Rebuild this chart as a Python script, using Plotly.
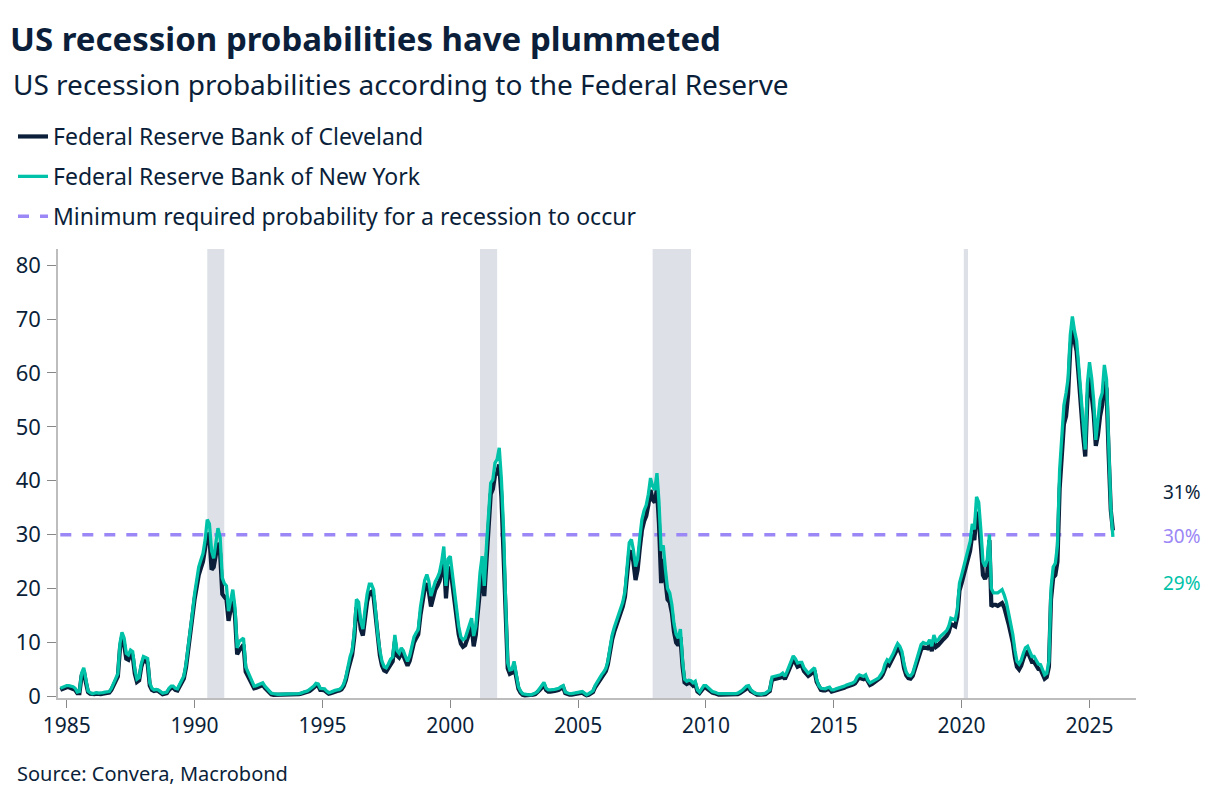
import pandas as pd
import plotly.graph_objects as go

# ---------------- data (monthly, Oct 1984 - Dec 2025) ----------------
start_month = "1984-10-01"

cleveland = [
    1.2, 1.4, 1.6,                                                     # 1984 Oct-Dec
    1.7, 1.7, 1.6, 1.5, 1.2, 0.6, 0.6, 3.8, 4.8, 2.6, 0.8, 0.5,        # 1985
    0.4, 0.4, 0.5, 0.4, 0.4, 0.5, 0.6, 0.6, 0.7, 1.2, 2.1, 3.0,        # 1986
    3.7, 9.0, 11.0, 9.6, 7.0, 6.8, 7.8, 7.5, 4.2, 2.7, 3.0, 5.4,       # 1987
    6.8, 6.5, 6.2, 2.0, 1.2, 1.0, 1.1, 1.0, 0.6, 0.4, 0.5, 0.6,        # 1988
    1.2, 1.6, 1.6, 1.2, 1.1, 1.8, 2.4, 3.3, 5.4, 8.2, 10.8, 14.8,      # 1989
    18.0, 20.8, 22.5, 23.8, 25.0, 27.5, 30.3, 29.5, 23.5, 24.0, 26.0, 28.5,  # 1990
    26.5, 19.0, 18.5, 18.0, 14.0, 16.0, 18.2, 15.0, 7.8, 8.5, 9.2, 9.6,      # 1991
    4.6, 3.7, 3.0, 2.2, 1.5, 1.6, 1.8, 2.0, 2.1, 1.6, 1.1, 0.7,        # 1992
    0.4, 0.3, 0.3, 0.3, 0.3, 0.3, 0.3, 0.3, 0.3, 0.3, 0.3, 0.4,        # 1993
    0.3, 0.4, 0.5, 0.6, 0.7, 0.8, 1.0, 1.3, 1.6, 2.0, 2.0, 1.2,        # 1994
    1.2, 1.1, 0.8, 0.5, 0.6, 0.8, 0.9, 1.0, 1.1, 1.3, 1.9, 3.0,        # 1995
    4.8, 6.6, 7.7, 11.0, 16.5, 16.0, 12.5, 11.3, 14.8, 17.6, 19.2, 19.4,     # 1996
    18.5, 14.0, 10.5, 7.6, 5.7, 4.8, 4.6, 5.3, 6.1, 6.5, 10.2, 7.6,    # 1997
    7.2, 8.0, 7.6, 6.6, 5.7, 6.6, 8.3, 10.0, 10.8, 11.5, 15.0, 17.6,   # 1998
    20.0, 21.0, 19.5, 16.7, 18.2, 19.8, 20.5, 21.4, 23.2, 25.8, 18.2, 23.3,  # 1999
    24.0, 20.5, 18.0, 14.5, 11.5, 9.8, 9.2, 9.5, 10.6, 12.0, 13.0, 9.3,      # 2000
    11.5, 16.0, 20.5, 23.8, 18.6, 25.5, 32.5, 37.5, 38.5, 41.0, 41.5, 43.0,  # 2001
    37.0, 27.5, 15.5, 5.2, 4.2, 4.4, 5.7, 3.0, 1.4, 0.7, 0.3, 0.2,     # 2002
    0.2, 0.2, 0.2, 0.3, 0.4, 0.7, 1.2, 1.6, 2.2, 1.2, 0.9, 0.9,        # 2003
    0.9, 1.0, 1.1, 1.2, 1.5, 1.7, 0.6, 0.4, 0.3, 0.3, 0.4, 0.4,        # 2004
    0.5, 0.6, 0.7, 0.4, 0.2, 0.3, 0.6, 0.8, 1.7, 2.3, 3.0, 3.5,        # 2005
    4.0, 4.7, 5.9, 8.8, 10.5, 12.0, 13.2, 14.0, 15.6, 16.7, 18.5, 22.0,      # 2006
    26.5, 27.0, 25.0, 21.6, 23.5, 27.5, 30.8, 32.5, 33.5, 35.5, 38.3, 36.5,  # 2007
    36.0, 38.5, 32.0, 21.0, 25.5, 21.5, 18.0, 17.5, 15.5, 12.0, 10.0, 9.5,   # 2008
    11.0, 5.5, 2.6, 2.3, 2.5, 2.4, 2.0, 2.3, 0.9, 0.6, 1.2, 1.6,       # 2009
    1.6, 1.3, 0.9, 0.7, 0.6, 0.4, 0.3, 0.3, 0.3, 0.3, 0.3, 0.3,        # 2010
    0.3, 0.3, 0.4, 0.4, 0.6, 0.9, 1.2, 1.6, 1.7, 1.0, 0.7, 0.4,        # 2011
    0.3, 0.3, 0.3, 0.3, 0.4, 0.7, 1.0, 3.1, 3.2, 3.3, 3.3, 3.5,        # 2012
    3.8, 3.2, 4.0, 5.0, 6.2, 6.8, 6.3, 5.5, 5.7, 5.7, 4.7, 4.2,        # 2013
    3.8, 4.1, 4.5, 4.8, 2.7, 1.7, 1.2, 1.1, 1.1, 1.3, 1.4, 0.9,        # 2014
    1.0, 1.1, 1.2, 1.3, 1.4, 1.6, 1.8, 1.9, 2.0, 2.2, 2.4, 3.1,        # 2015
    3.6, 3.3, 3.2, 3.5, 2.6, 2.1, 2.3, 2.6, 2.7, 3.0, 3.5, 4.1,        # 2016
    5.3, 6.1, 5.8, 6.5, 7.2, 8.2, 8.9, 8.5, 7.5, 5.2, 3.9, 3.4,        # 2017
    3.3, 3.8, 4.9, 6.4, 7.7, 8.7, 9.1, 8.9, 8.9, 9.6, 8.4, 10.4,       # 2018
    9.2, 9.5, 10.1, 10.4, 10.8, 11.2, 11.9, 13.4, 13.2, 13.0, 14.8, 19.6,    # 2019
    21.0, 22.5, 23.8, 25.5, 27.0, 30.0, 29.0, 34.2, 33.0, 28.0, 22.5, 21.8,  # 2020
    22.8, 29.0, 16.7, 17.0, 17.0, 16.8, 17.0, 17.3, 16.5, 15.3, 13.5, 11.8,  # 2021
    10.0, 7.2, 5.5, 5.0, 5.7, 7.0, 8.0, 8.3, 7.5, 6.4, 6.4, 5.8,       # 2022
    5.1, 5.0, 4.2, 3.3, 3.6, 5.5, 18.0, 22.0, 22.5, 25.0, 38.5, 45.5,  # 2023
    50.5, 52.0, 56.0, 64.5, 68.0, 66.0, 64.0, 59.0, 53.0, 48.5, 44.5, 55.0,  # 2024
    59.5, 56.5, 52.5, 46.5, 48.5, 52.0, 54.0, 58.5, 57.0, 45.0, 34.5, 30.8,  # 2025
]

new_york = [
    1.5, 1.7, 1.9,                                                     # 1984 Oct-Dec
    2.0, 2.0, 1.9, 1.8, 1.5, 0.8, 0.9, 4.3, 5.3, 3.0, 1.0, 0.7,        # 1985
    0.5, 0.6, 0.7, 0.6, 0.6, 0.7, 0.8, 0.8, 0.9, 1.5, 2.5, 3.5,        # 1986
    4.2, 9.9, 11.9, 10.8, 8.0, 7.7, 8.6, 8.3, 5.0, 3.2, 3.5, 6.0,      # 1987
    7.4, 7.2, 7.0, 2.5, 1.5, 1.2, 1.3, 1.2, 0.8, 0.6, 0.7, 0.8,        # 1988
    1.5, 1.9, 1.9, 1.5, 1.4, 2.2, 2.8, 3.8, 6.0, 8.8, 11.7, 15.5,      # 1989
    19.0, 21.8, 24.0, 25.3, 26.5, 29.0, 32.8, 32.0, 27.0, 25.6, 28.5, 31.2,  # 1990
    29.5, 22.0, 21.0, 20.5, 15.8, 18.0, 19.8, 16.5, 9.0, 10.2, 10.5, 10.8,   # 1991
    5.5, 4.5, 3.6, 2.6, 1.9, 2.0, 2.2, 2.4, 2.5, 1.9, 1.4, 0.9,        # 1992
    0.6, 0.5, 0.4, 0.4, 0.4, 0.4, 0.4, 0.4, 0.4, 0.4, 0.4, 0.5,        # 1993
    0.4, 0.5, 0.6, 0.8, 0.9, 1.0, 1.3, 1.6, 1.9, 2.4, 2.3, 1.5,        # 1994
    1.5, 1.4, 1.0, 0.7, 0.8, 1.0, 1.1, 1.2, 1.3, 1.6, 2.3, 3.5,        # 1995
    5.5, 7.4, 8.5, 12.0, 18.0, 17.5, 14.0, 12.5, 16.1, 19.0, 20.8, 20.8,     # 1996
    19.8, 15.0, 11.5, 8.5, 6.5, 5.5, 5.3, 6.0, 6.9, 7.3, 11.4, 8.5,    # 1997
    8.0, 9.0, 8.5, 7.4, 6.5, 7.5, 9.3, 11.0, 11.8, 12.4, 16.5, 19.0,   # 1998
    21.5, 22.6, 21.4, 18.6, 19.8, 21.3, 22.0, 23.0, 25.0, 27.8, 20.5, 25.5,  # 1999
    26.0, 22.5, 20.0, 16.0, 13.0, 11.0, 10.5, 10.8, 12.0, 13.5, 14.5, 11.2,  # 2000
    13.0, 18.0, 22.9, 26.0, 20.5, 27.8, 34.6, 39.6, 40.2, 43.3, 44.0, 46.1,  # 2001
    40.2, 30.9, 18.0, 6.2, 4.9, 5.0, 6.5, 3.7, 1.8, 1.0, 0.5, 0.4,     # 2002
    0.3, 0.3, 0.3, 0.4, 0.6, 0.9, 1.5, 1.9, 2.6, 1.5, 1.2, 1.2,        # 2003
    1.2, 1.3, 1.4, 1.5, 1.8, 2.0, 0.8, 0.6, 0.5, 0.5, 0.6, 0.6,        # 2004
    0.7, 0.8, 0.9, 0.6, 0.3, 0.5, 0.8, 1.0, 2.0, 2.7, 3.4, 4.0,        # 2005
    4.5, 5.2, 6.5, 9.5, 11.3, 12.8, 14.0, 14.8, 16.5, 17.5, 19.5, 23.5,      # 2006
    28.5, 29.1, 27.2, 24.1, 25.5, 29.5, 32.8, 34.5, 35.5, 37.5, 40.5, 39.0,  # 2007
    38.3, 41.4, 36.0, 27.0, 28.0, 23.5, 20.0, 19.2, 17.0, 13.5, 11.5, 10.8,  # 2008
    12.5, 6.5, 3.2, 2.8, 3.0, 2.9, 2.5, 2.8, 1.2, 0.8, 1.5, 2.0,       # 2009
    2.0, 1.6, 1.2, 0.9, 0.8, 0.6, 0.5, 0.5, 0.5, 0.5, 0.5, 0.5,        # 2010
    0.4, 0.4, 0.5, 0.6, 0.8, 1.1, 1.5, 1.9, 2.0, 1.3, 0.9, 0.6,        # 2011
    0.5, 0.4, 0.4, 0.5, 0.6, 0.9, 1.2, 3.6, 3.7, 3.8, 3.8, 4.0,        # 2012
    4.3, 3.7, 4.5, 5.6, 6.8, 7.5, 7.0, 6.2, 6.3, 6.3, 5.3, 4.8,        # 2013
    4.3, 4.6, 5.0, 5.3, 3.1, 2.0, 1.5, 1.4, 1.4, 1.6, 1.7, 1.2,        # 2014
    1.2, 1.4, 1.5, 1.6, 1.7, 1.9, 2.1, 2.2, 2.3, 2.5, 2.8, 3.6,        # 2015
    4.0, 3.8, 3.7, 4.0, 3.0, 2.5, 2.7, 3.0, 3.1, 3.4, 4.0, 4.6,        # 2016
    6.0, 6.8, 6.5, 7.2, 8.0, 9.0, 9.8, 9.3, 8.3, 6.0, 4.5, 3.9,        # 2017
    3.8, 4.3, 5.5, 7.1, 8.5, 9.6, 10.0, 9.8, 9.8, 10.5, 9.3, 11.4,     # 2018
    10.2, 10.5, 11.1, 11.4, 11.8, 12.2, 13.0, 14.5, 14.3, 14.2, 16.1, 21.0,  # 2019
    22.5, 24.0, 25.4, 27.3, 28.7, 32.0, 31.0, 37.0, 36.0, 31.0, 25.0, 24.1,  # 2020
    25.4, 30.0, 20.0, 19.2, 19.2, 19.2, 19.5, 19.8, 18.8, 17.5, 15.5, 13.8,  # 2021
    11.5, 8.5, 6.5, 6.0, 6.7, 8.0, 9.0, 9.3, 8.5, 7.4, 7.4, 6.8,       # 2022
    6.0, 5.9, 5.0, 4.0, 4.3, 6.5, 20.0, 24.0, 24.7, 28.0, 42.0, 49.0,  # 2023
    54.0, 56.3, 59.0, 67.0, 70.5, 67.8, 66.0, 61.0, 56.0, 51.0, 45.8, 58.0,  # 2024
    62.0, 59.0, 55.0, 47.6, 51.5, 55.0, 56.3, 61.5, 58.8, 45.0, 35.0, 29.6,  # 2025
]

threshold = 30
recessions = [
    ("1990-07-01", "1991-03-01"),
    ("2001-03-01", "2001-11-01"),
    ("2007-12-01", "2009-06-01"),
    ("2020-02-01", "2020-04-01"),
]
year_ticks = [1985, 1990, 1995, 2000, 2005, 2010, 2015, 2020, 2025]
end_labels = [("31%", 38.0, "cle"), ("30%", 29.8, "thr"), ("29%", 21.1, "ny")]

dates = pd.date_range(start_month, periods=len(new_york), freq="MS")

# ---------------- style ----------------
NAVY = "#0b1f3a"
TEAL = "#00c2a8"
PURPLE = "#9b87f5"
SHADE = "#dde0e7"
AXIS = "#bdbdbd"
FONT = "Noto Sans"
colors = {"cle": NAVY, "thr": PURPLE, "ny": TEAL}

# page has an 8px body margin: figure is drawn 8px smaller and offset
W, H = 1218, 798
L, R, T, B = 50, 90, 241, 108
PW, PH = W - L - R, H - T - B


def px_x(x):  # page x (reference px) -> paper x
    return (x - 8 - L) / PW


def px_y(y):  # page y (reference px) -> paper y
    return (H - B - (y - 8)) / PH


fig = go.Figure()

fig.add_trace(go.Scatter(
    x=[dates[0], dates[-1]], y=[threshold, threshold], mode="lines",
    name="Minimum required probability for a recession to occur",
    line=dict(color=PURPLE, width=3.5, dash="11px,11px"),
    legendrank=3, legendgroup="c", hoverinfo="skip"))
fig.add_trace(go.Scatter(
    x=dates, y=cleveland, mode="lines", name="Federal Reserve Bank of Cleveland",
    line=dict(color=NAVY, width=4.2), legendrank=1, legendgroup="a"))
fig.add_trace(go.Scatter(
    x=dates, y=new_york, mode="lines", name="Federal Reserve Bank of New York",
    line=dict(color=TEAL, width=3.3), legendrank=2, legendgroup="b"))

for s, e in recessions:
    fig.add_shape(type="rect", xref="x", yref="paper", x0=s, x1=e, y0=0, y1=1,
                  fillcolor=SHADE, line_width=0, layer="below")

for txt, yv, key in end_labels:
    fig.add_annotation(text=txt, x=px_x(1161), xref="paper", y=yv, yref="y",
                       xanchor="left", yanchor="middle", showarrow=False,
                       font=dict(family=FONT, size=19, color=colors[key]))

fig.add_annotation(text="US recession probabilities according to the Federal Reserve",
                   xref="paper", yref="paper", x=px_x(791), y=px_y(84),
                   xanchor="right", yanchor="middle", showarrow=False,
                   font=dict(family=FONT, size=28, color=NAVY))
fig.add_annotation(text="Source: Convera, Macrobond",
                   xref="paper", yref="paper", x=px_x(290), y=px_y(773),
                   xanchor="right", yanchor="middle", showarrow=False,
                   font=dict(family=FONT, size=20, color=NAVY))

fig.update_layout(
    width=W, height=H,
    margin=dict(l=L, r=R, t=T, b=B, autoexpand=False),
    paper_bgcolor="white", plot_bgcolor="white",
    font=dict(family=FONT, color=NAVY),
    title=dict(text="<b>US recession probabilities have plummeted</b>",
               x=2 / W, xanchor="left", xref="container",
               y=1 - 31 / H, yanchor="middle", yref="container",
               font=dict(family=FONT, size=33, color=NAVY)),
    showlegend=True,
    legend=dict(x=5 / W, xanchor="left", xref="container",
                y=1 - (115 - 8) / H, yanchor="top", yref="container",
                traceorder="grouped", tracegroupgap=7,
                font=dict(family=FONT, size=23, color=NAVY),
                bgcolor="rgba(0,0,0,0)", itemwidth=30),
    xaxis=dict(type="date", range=["1984-08-29", "2026-10-27"],
               tickvals=[f"{y}-01-01" for y in year_ticks],
               ticktext=[str(y) for y in year_ticks],
               ticks="outside", ticklen=8, tickcolor="#888888", tickwidth=1.3,
               showline=True, linecolor=AXIS, linewidth=1.5,
               showgrid=False, zeroline=False,
               tickfont=dict(family=FONT, size=21, color=NAVY)),
    yaxis=dict(range=[-0.3, 83], tickvals=list(range(0, 81, 10)),
               ticks="outside", ticklen=9, tickcolor="#888888", tickwidth=1.3,
               showline=True, linecolor=AXIS, linewidth=1.5,
               showgrid=False, zeroline=False, ticklabelstandoff=2,
               tickfont=dict(family=FONT, size=22, color=NAVY)),
)

fig.write_html("out.html")
